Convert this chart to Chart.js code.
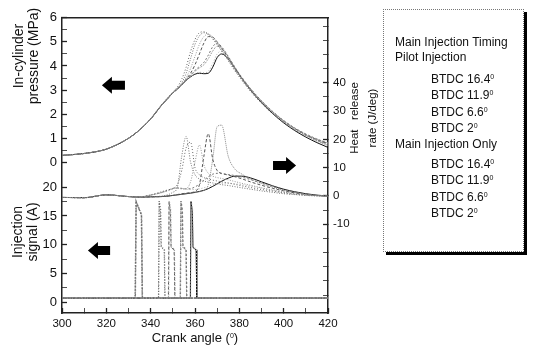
<!DOCTYPE html>
<html>
<head>
<meta charset="utf-8">
<script src="https://cdn.jsdelivr.net/npm/chart.js@4.4.0/dist/chart.umd.min.js"></script>
<style>
body{margin:0;background:#fff;font-family:"Liberation Sans",Arial,sans-serif;color:#111}
#wrap{position:relative;width:535px;height:349px;overflow:hidden}
#c{position:absolute;left:0;top:0}
.ttl{position:absolute;white-space:nowrap;text-align:center;color:#111}
.rot{transform:rotate(-90deg);transform-origin:50% 50%}
#legend{position:absolute;left:383px;top:9px;width:141px;height:243px;box-sizing:border-box;border:1px dotted #777;box-shadow:3px 3px 0 #000;background:#fff}
.lg{position:absolute;font-size:12px;line-height:14px;white-space:nowrap;color:#111}
sup{font-size:7px;vertical-align:top;position:relative;top:-2px}
</style>
</head>
<body>
<div id="wrap">
  <canvas id="c" width="535" height="349"></canvas>
  <div class="ttl rot" style="left:-28px;top:40px;width:110px;height:32px;font-size:14px;line-height:15px">In-cylinder<br>pressure (MPa)</div>
  <div class="ttl rot" style="left:-19px;top:216px;width:90px;height:32px;font-size:14px;line-height:15px">Injection<br>signal (A)</div>
  <div class="ttl rot" style="left:318px;top:100px;width:90px;height:36px;font-size:11.5px;line-height:18px">Heat&nbsp;&nbsp; release<br>rate (J/deg)</div>
  <div class="ttl" style="left:135px;top:330px;width:120px;font-size:13px;line-height:15px">Crank angle (<sup>0</sup>)</div>
  <div id="legend"></div>
</div>
<script>
// ---- data ----
const angles = [300,310,320,330,335,340,345,348,350,352,354,356,358,360,362,364,366,368,370,372,375,378,381,385,390,395,400,405,410,415,420];

// in-cylinder pressure (MPa)
const presP164 = [0.29,0.37,0.55,1.0,1.35,1.82,2.4,2.72,2.92,3.12,3.45,3.95,4.6,5.1,5.38,5.42,5.32,5.12,4.88,4.62,4.22,3.8,3.42,2.95,2.45,2.02,1.66,1.36,1.12,0.92,0.76];
const presP119 = [0.29,0.37,0.55,1.0,1.35,1.82,2.4,2.71,2.9,3.08,3.26,3.52,3.9,4.4,4.9,5.22,5.32,5.2,4.98,4.72,4.3,3.88,3.5,3.03,2.53,2.1,1.73,1.42,1.17,0.97,0.81];
const presP66  = [0.29,0.37,0.55,1.0,1.35,1.81,2.39,2.7,2.9,3.07,3.24,3.43,3.62,3.82,3.98,4.15,4.45,4.8,4.95,4.8,4.4,3.95,3.55,3.07,2.56,2.12,1.74,1.43,1.18,0.97,0.8];
const presP2   = [0.29,0.37,0.55,1.0,1.35,1.8,2.38,2.69,2.89,3.05,3.22,3.4,3.56,3.68,3.74,3.72,3.78,4.1,4.5,4.62,4.35,3.92,3.52,3.04,2.52,2.08,1.7,1.38,1.12,0.9,0.72];
const presM164 = [0.29,0.37,0.55,1.0,1.35,1.8,2.38,2.68,2.88,3.05,3.3,3.7,4.3,4.9,5.25,5.38,5.33,5.15,4.92,4.66,4.26,3.84,3.46,2.99,2.49,2.06,1.7,1.4,1.15,0.95,0.79];
const presM119 = [0.29,0.37,0.55,1.0,1.35,1.8,2.38,2.68,2.88,3.04,3.22,3.45,3.7,4.05,4.5,4.95,5.22,5.2,5.0,4.75,4.34,3.92,3.52,3.05,2.54,2.1,1.72,1.41,1.15,0.94,0.77];
const presM66  = [0.29,0.37,0.55,1.0,1.35,1.8,2.38,2.68,2.88,3.04,3.22,3.41,3.6,3.78,3.92,4.05,4.3,4.62,4.82,4.75,4.38,3.94,3.53,3.05,2.52,2.07,1.68,1.36,1.1,0.88,0.7];
const presM2   = [0.29,0.37,0.55,1.0,1.35,1.8,2.38,2.68,2.88,3.04,3.22,3.4,3.55,3.66,3.7,3.68,3.7,3.95,4.35,4.5,4.3,3.9,3.5,3.01,2.48,2.03,1.64,1.32,1.05,0.82,0.62];

// heat release rate (J/deg)
const heatP164 = [-0.5,-0.6,0.4,-0.2,-0.3,0.4,1.5,2.2,2.6,4,9,17,19,10,7.5,6.5,6,5.6,5.3,5,4.6,4.1,3.6,3,2.3,1.7,1.1,0.6,0.3,0.1,-0.1];
const heatP119 = [-0.5,-0.6,0.4,-0.2,-0.3,0.3,1.2,2,2.6,2.8,2.5,2.6,5,12,18,11,8,7,6.5,6.2,5.7,5.1,4.5,3.8,2.9,2.1,1.4,0.8,0.4,0.1,-0.1];
const heatP66  = [-0.5,-0.6,0.4,-0.2,-0.3,0.3,1.3,2.1,2.7,2.9,2.7,2.5,2.6,3.2,4.2,5.5,6.8,7.7,8,7.9,7.6,7.2,6.7,5.8,4.6,3.4,2.3,1.4,0.7,0.2,0];
const heatP2   = [-0.5,-0.6,0.4,-0.2,-0.3,0.3,1.2,2,2.5,2.8,2.6,2.4,2.3,2.3,2.5,2.9,3.4,3.9,4.3,4.5,4.5,4.3,4,3.5,2.8,2,1.3,0.8,0.4,0.1,-0.1];
const heatM164 = [-0.5,-0.6,0.4,-0.2,-0.4,-0.3,0,0.5,1.3,3,14,21,12,7.5,6,5.3,4.9,4.6,4.3,4,3.7,3.3,2.9,2.4,1.8,1.3,0.8,0.5,0.2,0,-0.2];
const heatM119 = [-0.5,-0.6,0.4,-0.2,-0.4,-0.3,-0.2,0,0.2,0.5,0.8,1,1.2,1.6,4,14,22,13,9,8,7.4,6.8,6.1,5,3.8,2.7,1.8,1.1,0.6,0.2,0];
const heatM66  = [-0.5,-0.6,0.4,-0.2,-0.4,-0.3,-0.2,0,0.2,0.4,0.6,0.8,1,1.2,1.5,2,4,13,24.5,25,14,9.5,7.8,6,4.4,3.1,2,1.2,0.6,0.2,0];
const heatM2   = [-0.5,-0.6,0.4,-0.2,-0.4,-0.3,-0.2,0,0.2,0.4,0.6,0.8,1,1.3,1.6,2,2.6,3.4,4.3,5.2,6.3,7,7,6.4,5,3.6,2.4,1.5,0.8,0.3,0];

// injection signal (A), [crank angle, current]
const injP164 = [[300,0.7],[333,0.7],[333.4,17.6],[334.2,16.8],[335.8,15.2],[336.2,0.7],[343.6,0.7],[343.9,17.6],[344.5,16],[344.8,9.6],[346.2,9.2],[346.5,0.7],[420,0.7]];
const injP119 = [[300,0.7],[333,0.7],[333.4,17.6],[334.2,16.8],[335.8,15.2],[336.2,0.7],[348.1,0.7],[348.4,17.6],[349.0,16],[349.3,9.6],[350.7,9.2],[351.0,0.7],[420,0.7]];
const injP66  = [[300,0.7],[333.1,0.7],[333.5,17.4],[334.3,16.6],[335.9,15.2],[336.3,0.7],[353.4,0.7],[353.7,17.6],[354.3,16],[354.6,9.6],[356.0,9.2],[356.3,0.7],[420,0.7]];
const injP2   = [[300,0.7],[333.1,0.7],[333.5,17.4],[334.3,16.6],[335.9,15.2],[336.3,0.7],[358.0,0.7],[358.3,17.6],[358.9,16],[359.2,9.6],[360.6,9.2],[360.9,0.7],[420,0.7]];
const injM164 = [[300,0.7],[343.5,0.7],[343.8,17.5],[344.4,15.8],[344.7,9.5],[346.1,9.1],[346.4,0.7],[420,0.7]];
const injM119 = [[300,0.7],[348.0,0.7],[348.3,17.5],[348.9,15.8],[349.2,9.5],[350.6,9.1],[350.9,0.7],[420,0.7]];
const injM66  = [[300,0.7],[353.3,0.7],[353.6,17.5],[354.2,15.8],[354.5,9.5],[355.9,9.1],[356.2,0.7],[420,0.7]];
const injM2   = [[300,0.7],[357.9,0.7],[358.2,17.5],[358.8,15.8],[359.1,9.5],[360.5,9.1],[360.8,0.7],[420,0.7]];

// axis ticks (major, then minor)
const xTicks = [300,320,340,360,380,400,420];
const xMinor = [310,330,350,370,390,410];
const presTicks = [0,1,2,3,4,5,6];
const presMinor = [0.5,1.5,2.5,3.5,4.5,5.5];
const injTicks = [0,5,10,15,20];
const injMinor = [2.5,7.5,12.5,17.5];
const heatTicks = [-10,0,10,20,30,40];
const heatMinor = [-35,-30,-25,-20,-15,-5,5,15,25,35,45,50,55,60];

// legend text
const legendHead1 = 'Main Injection Timing';
const legendHead2 = 'Pilot Injection';
const legendHead3 = 'Main Injection Only';
const timings = ['16.4','11.9','6.6','2'];

// ---- axis ranges (stacked panels share one plot box) ----
const P_MIN=-6.25, P_MAX=6, I_MIN=-1.9, I_MAX=49.5, H_MIN=-41.3, H_MAX=62.9;
const injToPres = v => P_MIN + (v-I_MIN)/(I_MAX-I_MIN)*(P_MAX-P_MIN);

const styles = [
  {c:'#666', d:[1,2], w:1},
  {c:'#999', d:[1,1.5], w:1},
  {c:'#777', d:[2,2], w:1},
  {c:'#aaa', d:[1,2], w:1},
  {c:'#777', d:[1,1.5], w:1},
  {c:'#555', d:[3,2], w:1},
  {c:'#888', d:[1,1], w:1},
  {c:'#111', d:[], w:1}
];
const presSets = [presP164,presP119,presP66,presP2,presM164,presM119,presM66,presM2];
const heatSets = [heatP164,heatP119,heatP66,heatP2,heatM164,heatM119,heatM66,heatM2];
const injSets  = [injP164,injP119,injP66,injP2,injM164,injM119,injM66,injM2];
const names = timings.map(t=>'Pilot BTDC '+t).concat(timings.map(t=>'Main only BTDC '+t));

const datasets = [];
presSets.forEach((arr,i)=>datasets.push({label:names[i]+' pressure', yAxisID:'yP', data:angles.map((a,k)=>({x:a,y:arr[k]})),
  borderColor:styles[i].c, borderDash:styles[i].d, borderWidth:styles[i].w, pointRadius:0, cubicInterpolationMode:'monotone'}));
heatSets.forEach((arr,i)=>datasets.push({label:names[i]+' heat release', yAxisID:'yH', data:angles.map((a,k)=>({x:a,y:arr[k]})),
  borderColor:styles[i].c, borderDash:styles[i].d, borderWidth:styles[i].w, pointRadius:0, cubicInterpolationMode:'monotone'}));
injSets.forEach((arr,i)=>datasets.push({label:names[i]+' injection', yAxisID:'yI', data:arr.map(p=>({x:p[0],y:p[1]})),
  borderColor:styles[i].c, borderDash:styles[i].d, borderWidth:i<4?1.3:1, pointRadius:0, tension:0}));

// block arrows pointing each family of curves to its axis
const arrows = [
  {axis:'yP', from:328.4, to:318, at:3.2},
  {axis:'yH', from:395.2, to:405.6, at:10.8},
  {axis:'yI', from:321.7, to:311.7, at:9.0}
];
const arrowPlugin = {
  id:'arrows',
  afterDatasetsDraw(chart){
    const ctx=chart.ctx, xs=chart.scales.x;
    ctx.save();
    ctx.fillStyle='#000';
    arrows.forEach(a=>{
      const ys=chart.scales[a.axis];
      const x0=xs.getPixelForValue(a.from), x1=xs.getPixelForValue(a.to), y=ys.getPixelForValue(a.at);
      const dir=Math.sign(x1-x0), head=10*dir;
      ctx.beginPath();
      ctx.moveTo(x0,y-4.5); ctx.lineTo(x1-head,y-4.5); ctx.lineTo(x1-head,y-8.5);
      ctx.lineTo(x1,y); ctx.lineTo(x1-head,y+8.5); ctx.lineTo(x1-head,y+4.5); ctx.lineTo(x0,y+4.5);
      ctx.closePath(); ctx.fill();
    });
    ctx.restore();
  }
};

const fontFam = '"Liberation Sans", Arial, sans-serif';
const leftLabels = presTicks.map(String).concat(injTicks.map(String));
const tickW = c => (c.tick && c.tick.label === '') ? 0.8 : 1.3;

new Chart(document.getElementById('c'), {
  type:'line',
  data:{datasets},
  options:{
    responsive:false, animation:false, devicePixelRatio:1,
    layout:{padding:{left:0, right:177, top:15, bottom:0}},
    plugins:{legend:{display:false}, tooltip:{enabled:false}},
    scales:{
      x:{type:'linear', position:'bottom', min:300, max:420,
        afterBuildTicks:s=>{s.ticks=xTicks.concat(xMinor).map(v=>({value:v}));},
        afterFit:s=>{s.height=36;},
        ticks:{font:{family:fontFam,size:11.5}, color:'#111', padding:9, maxRotation:0, autoSkip:false,
          callback:(v,i)=>i<xTicks.length?String(v):''},
        grid:{drawOnChartArea:false, tickLength:-5, color:'#222', tickWidth:tickW},
        border:{color:'#222', width:1.5}},
      xTop:{type:'linear', position:'top', min:300, max:420,
        afterFit:s=>{s.height=0;},
        ticks:{display:false}, grid:{drawOnChartArea:false, drawTicks:false},
        border:{color:'#222', width:1.5}},
      yP:{type:'linear', position:'left', min:P_MIN, max:P_MAX,
        afterBuildTicks:s=>{s.ticks=presTicks.map(v=>({value:v}))
          .concat(injTicks.map(v=>({value:injToPres(v)})))
          .concat(presMinor.map(v=>({value:v})))
          .concat(injMinor.map(v=>({value:injToPres(v)})));},
        afterFit:s=>{s.width=62;},
        ticks:{font:{family:fontFam,size:13}, color:'#111', padding:10, autoSkip:false,
          callback:(v,i)=>i<leftLabels.length?leftLabels[i]:''},
        grid:{drawOnChartArea:false, tickLength:-5, color:'#222', tickWidth:tickW},
        border:{color:'#222', width:1.5}},
      yI:{type:'linear', display:false, min:I_MIN, max:I_MAX},
      yH:{type:'linear', position:'right', min:H_MIN, max:H_MAX,
        afterBuildTicks:s=>{s.ticks=heatTicks.concat(heatMinor).map(v=>({value:v}));},
        afterFit:s=>{s.width=30;},
        ticks:{font:{family:fontFam,size:11.5}, color:'#111', padding:10, autoSkip:false,
          callback:(v,i)=>i<heatTicks.length?String(v):''},
        grid:{drawOnChartArea:false, tickLength:-5, color:'#222', tickWidth:tickW},
        border:{color:'#222', width:1.5}}
    }
  },
  plugins:[arrowPlugin]
});

// legend (text only, as in the figure)
const lg = document.getElementById('legend');
const rows = [[legendHead1,395,42],[legendHead2,395,57]]
  .concat(timings.map((t,i)=>['BTDC '+t+'<sup>0</sup>',431,79+i*16.3]))
  .concat([[legendHead3,395,144]])
  .concat(timings.map((t,i)=>['BTDC '+t+'<sup>0</sup>',431,164+i*16.3]));
rows.forEach(r=>{
  const d=document.createElement('div');
  d.className='lg';
  d.innerHTML=r[0];
  d.style.left=(r[1]-384)+'px';
  d.style.top=(r[2]-7-10)+'px';
  lg.appendChild(d);
});
</script>
</body>
</html>
